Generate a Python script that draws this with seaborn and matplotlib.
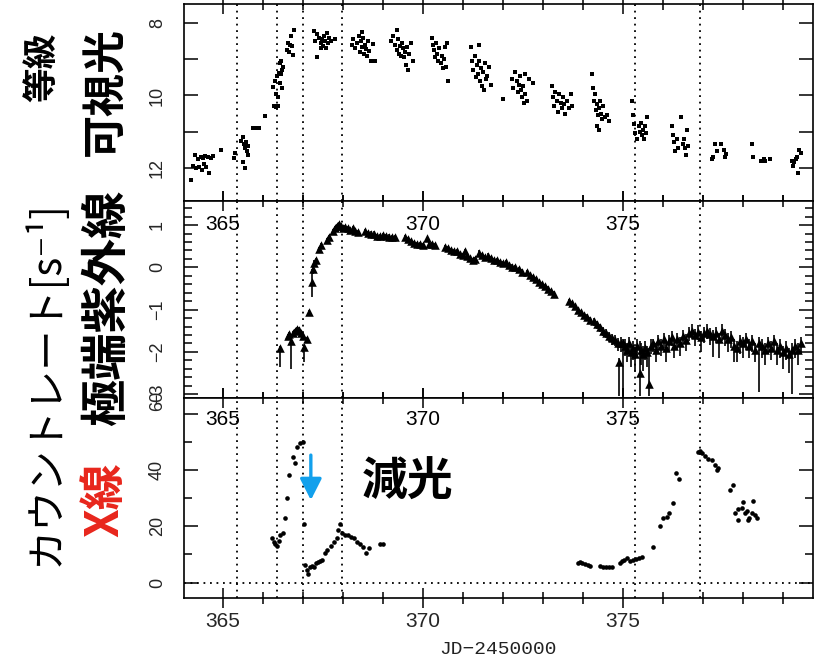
import matplotlib
matplotlib.use("Agg")
import matplotlib.pyplot as plt
import matplotlib.transforms as mtransforms
from matplotlib.ticker import MultipleLocator, FixedLocator
import seaborn as sns

# ---------------- optical (visual magnitude) ----------------
vis_day = [
    364.20, 364.25, 364.30, 364.33, 364.38, 364.40, 364.45, 364.48, 364.50, 364.53,
    364.55, 364.58, 364.62, 364.65, 364.70, 364.75, 364.95,
    365.28, 365.30, 365.45, 365.50, 365.52, 365.55, 365.58, 365.60, 365.62, 365.50,
    365.55, 365.62, 365.75, 365.82, 365.90, 366.05,
    366.25, 366.28, 366.33, 366.38, 366.32, 366.38, 366.35, 366.40, 366.45, 366.48,
    366.42, 366.45, 366.50, 366.30, 366.42, 366.47,
    366.62, 366.68, 366.72, 366.60, 366.65, 366.75, 366.78, 366.70,
    367.27, 367.30, 367.35, 367.40, 367.45, 367.48, 367.50, 367.52, 367.55, 367.58,
    367.60, 367.62, 367.65, 367.70, 367.35, 367.80, 367.45,
    368.22, 368.25, 368.30, 368.35, 368.40, 368.42, 368.45, 368.48, 368.50, 368.52,
    368.55, 368.58, 368.60, 368.62, 368.65, 368.70, 368.75, 368.80, 368.48,
    369.20, 369.25, 369.30, 369.35, 369.38, 369.40, 369.42, 369.45, 369.48, 369.50,
    369.52, 369.55, 369.58, 369.60, 369.62, 369.65, 369.70, 369.75, 369.35,
    370.22, 370.25, 370.28, 370.30, 370.32, 370.35, 370.38, 370.40, 370.45, 370.48,
    370.50, 370.52, 370.55, 370.58, 370.62, 370.60,
    371.20, 371.22, 371.25, 371.30, 371.32, 371.35, 371.38, 371.40, 371.42, 371.45,
    371.48, 371.50, 371.52, 371.55, 371.58, 371.60, 371.65, 371.70, 371.40,
    372.00,
    372.22, 372.25, 372.30, 372.35, 372.38, 372.40, 372.42, 372.45, 372.48, 372.50,
    372.52, 372.55, 372.60, 372.65, 372.75, 372.55,
    373.22, 373.25, 373.28, 373.30, 373.35, 373.38, 373.40, 373.45, 373.48, 373.50,
    373.52, 373.55, 373.60, 373.65, 373.70, 373.72,
    374.22, 374.25, 374.28, 374.30, 374.32, 374.35, 374.38, 374.40, 374.42, 374.45,
    374.48, 374.50, 374.55, 374.60, 374.65, 374.35, 374.40,
    375.22, 375.25, 375.28, 375.30, 375.35, 375.40, 375.42, 375.45, 375.48, 375.50,
    375.52, 375.55, 375.58, 375.60,
    376.22, 376.25, 376.28, 376.30, 376.35, 376.38, 376.45, 376.50, 376.52, 376.55,
    376.58, 376.60, 376.62,
    377.22, 377.25, 377.30, 377.35, 377.45, 377.52, 377.55, 377.58,
    378.22, 378.25, 378.45, 378.52, 378.55, 378.68,
    379.22, 379.25, 379.28, 379.32, 379.35, 379.38, 379.40, 379.45,
]
vis_mag = [
    12.33, 11.95, 11.64, 12.02, 11.75, 11.98, 11.70, 12.05, 11.72, 11.90,
    11.68, 11.98, 11.70, 12.15, 11.72, 11.68, 11.52,
    11.72, 11.60, 11.25, 11.15, 11.35, 11.45, 11.30, 11.55, 11.40, 11.85,
    12.00, 11.65, 10.90, 10.90, 10.90, 10.58,
    9.78, 10.28, 10.32, 10.30, 9.95, 10.05, 9.45, 9.38, 9.40, 9.30,
    9.10, 9.05, 9.20, 9.60, 9.65, 9.80,
    8.55, 8.60, 8.62, 8.75, 8.80, 8.88, 8.18, 8.35,
    8.22, 8.48, 8.30, 8.40, 8.55, 8.45, 8.62, 8.35, 8.50, 8.68,
    8.28, 8.55, 8.42, 8.50, 8.95, 8.45, 8.70,
    8.60, 8.45, 8.70, 8.55, 8.35, 8.80, 8.50, 8.65, 8.40, 8.85,
    8.60, 8.72, 8.90, 8.50, 8.78, 9.05, 8.58, 9.05, 8.25,
    8.50, 8.35, 8.60, 8.75, 8.45, 8.85, 8.62, 8.90, 8.55, 8.70,
    8.95, 8.80, 9.15, 8.65, 9.30, 8.85, 8.55, 9.05, 8.20,
    8.40, 8.60, 8.75, 8.95, 8.55, 8.85, 9.05, 8.70, 9.10, 8.90,
    9.25, 9.00, 8.65, 9.20, 9.60, 8.55,
    8.65, 9.05, 9.30, 8.90, 9.50, 9.15, 9.40, 9.05, 9.60, 9.25,
    9.75, 9.35, 9.85, 9.10, 9.55, 9.45, 9.20, 9.70, 8.60,
    10.10,
    9.55, 9.80, 9.35, 9.60, 9.90, 9.70, 9.45, 9.85, 10.05, 9.75,
    10.20, 9.95, 10.15, 9.55, 9.65, 9.40,
    9.75, 10.05, 10.30, 9.90, 10.15, 10.45, 9.95, 10.20, 10.35, 10.05,
    10.25, 10.50, 10.15, 10.35, 9.95, 10.30,
    9.40, 9.80, 10.15, 9.95, 10.40, 10.25, 10.55, 10.35, 10.15, 10.50,
    10.65, 10.30, 10.60, 10.55, 10.70, 10.85, 10.95,
    10.15, 10.55, 10.80, 11.05, 11.20, 10.85, 11.00, 10.75, 11.10, 10.95,
    11.20, 10.85, 11.05, 10.60,
    10.85, 11.10, 11.30, 11.55, 11.20, 11.45, 10.60, 11.35, 11.20, 11.45,
    11.65, 10.95, 11.40,
    11.75, 11.70, 11.35, 11.55, 11.35, 11.50, 11.70, 11.62,
    11.35, 11.70, 11.80, 11.75, 11.82, 11.75,
    11.80, 11.95, 11.85, 11.75, 11.70, 12.15, 11.50, 11.60,
]

# ---------------- EUV (log count rate) with asymmetric errors ----------------
euv_day = [
    366.43, 366.62, 366.66, 366.70, 366.75, 366.80, 366.85, 366.90, 366.95, 367.00,
    367.04, 367.10, 367.15, 367.22, 367.25, 367.28, 367.32, 367.40, 367.45, 367.60,
    367.65, 367.75, 367.80, 367.85, 367.90, 367.95, 368.00, 368.05, 368.12, 368.18,
    368.25, 368.30, 368.38, 368.55, 368.62, 368.70, 368.78, 368.85, 368.92, 369.00,
    369.08, 369.15, 369.22, 369.30, 369.55, 369.62, 369.70, 369.78, 369.85, 369.92,
    370.00, 370.10, 370.15, 370.22, 370.30, 370.55, 370.62, 370.70, 370.78, 370.85,
    370.92, 371.00, 371.05, 371.10, 371.18, 371.25, 371.30, 371.40, 371.48, 371.55,
    371.62, 371.70, 371.78, 371.85, 371.92, 372.00, 372.08, 372.15, 372.22, 372.30,
    372.40, 372.48, 372.60, 372.68, 372.75, 372.82, 372.90, 372.98, 373.05, 373.12,
    373.20, 373.28, 373.65, 373.72, 373.80, 373.88, 373.95, 374.02, 374.10, 374.18,
    374.28, 374.35, 374.42, 374.50, 374.58, 374.65, 374.72, 374.80, 374.88, 374.90,
    374.95, 375.00, 375.05, 375.10, 375.15, 375.20, 375.25, 375.30, 375.35, 375.42,
    375.45, 375.50, 375.55, 375.60, 375.65, 375.70, 375.75, 375.82, 375.88, 375.95,
    376.02, 376.08, 376.15, 376.22, 376.28, 376.35, 376.42, 376.50, 376.58, 376.65,
    376.72, 376.80, 376.88, 376.95, 377.02, 377.10, 377.18, 377.25, 377.32, 377.40,
    377.48, 377.55, 377.62, 377.70, 377.78, 377.85, 377.92, 378.00, 378.08, 378.15,
    378.22, 378.30, 378.40, 378.48, 378.55, 378.62, 378.70, 378.78, 378.85, 378.92,
    379.00, 379.08, 379.15, 379.22, 379.30, 379.38, 379.45,
]
euv_log = [
    -1.90, -1.62, -1.58, -1.75, -1.55, -1.50, -1.45, -1.47, -1.55, -1.62,
    -1.88, -1.70, -1.05, -0.35, -0.05, 0.10, 0.18, 0.43, 0.52, 0.65,
    0.72, 0.85, 0.92, 0.97, 1.02, 0.98, 0.92, 0.95, 0.93, 0.88,
    0.92, 0.85, 0.83, 0.85, 0.82, 0.80, 0.80, 0.75, 0.74, 0.76,
    0.74, 0.73, 0.72, 0.72, 0.72, 0.68, 0.62, 0.57, 0.55, 0.55,
    0.53, 0.70, 0.55, 0.55, 0.52, 0.48, 0.45, 0.42, 0.38, 0.38,
    0.32, 0.30, 0.38, 0.28, 0.22, 0.18, 0.20, 0.35, 0.30, 0.25,
    0.28, 0.22, 0.18, 0.17, 0.12, 0.10, 0.12, 0.05, 0.02, 0.00,
    -0.05, -0.10, -0.12, -0.18, -0.22, -0.28, -0.35, -0.40, -0.45, -0.50,
    -0.55, -0.62, -0.80, -0.85, -0.92, -1.00, -1.05, -1.12, -1.18, -1.25,
    -1.28, -1.35, -1.42, -1.50, -1.55, -1.62, -1.68, -1.72, -1.78, -2.25,
    -1.80, -1.80, -1.85, -1.95, -1.80, -2.00, -1.90, -2.05, -1.85, -2.50,
    -1.95, -2.05, -1.90, -2.00, -2.75, -1.85, -1.80, -1.95, -1.75, -1.85,
    -1.70, -1.90, -1.75, -1.65, -1.85, -1.70, -1.80, -1.62, -1.72, -1.55,
    -1.50, -1.60, -1.52, -1.65, -1.55, -1.50, -1.58, -1.62, -1.55, -1.70,
    -1.50, -1.60, -1.70, -1.65, -1.85, -1.90, -1.75, -1.80, -1.70, -1.85,
    -1.75, -1.95, -1.80, -1.85, -1.95, -1.80, -1.90, -1.75, -1.95, -1.85,
    -2.00, -1.90, -2.05, -1.95, -1.85, -1.95, -1.80,
]
euv_lo = [
    0.45, 0.10, 0.10, 0.65, 0.10, 0.10, 0.10, 0.10, 0.10, 0.10,
    0.35, 0.10, 0.05, 0.35, 0.10, 0.10, 0.05, 0.05, 0.05, 0.05,
    0.05, 0.05, 0.05, 0.05, 0.05, 0.05, 0.05, 0.05, 0.05, 0.05,
    0.05, 0.05, 0.05, 0.05, 0.05, 0.05, 0.05, 0.05, 0.05, 0.05,
    0.05, 0.05, 0.05, 0.05, 0.05, 0.05, 0.05, 0.05, 0.05, 0.05,
    0.05, 0.02, 0.05, 0.05, 0.05, 0.05, 0.05, 0.05, 0.05, 0.05,
    0.05, 0.05, 0.05, 0.05, 0.05, 0.05, 0.05, 0.05, 0.05, 0.05,
    0.05, 0.05, 0.05, 0.05, 0.05, 0.05, 0.05, 0.05, 0.05, 0.05,
    0.05, 0.05, 0.05, 0.05, 0.05, 0.05, 0.05, 0.05, 0.05, 0.05,
    0.05, 0.05, 0.08, 0.08, 0.08, 0.08, 0.08, 0.08, 0.10, 0.10,
    0.10, 0.10, 0.10, 0.12, 0.12, 0.15, 0.15, 0.15, 0.20, 0.80,
    0.20, 1.25, 0.25, 0.30, 0.25, 0.35, 0.30, 0.40, 0.25, 0.55,
    0.35, 0.40, 0.30, 0.35, 0.30, 0.20, 0.20, 0.30, 0.20, 0.25,
    0.20, 0.35, 0.25, 0.20, 0.30, 0.25, 0.30, 0.20, 0.25, 0.20,
    0.20, 0.25, 0.20, 0.35, 0.25, 0.20, 0.25, 0.50, 0.25, 0.45,
    0.25, 0.25, 0.30, 0.25, 0.40, 0.35, 0.30, 0.35, 0.25, 0.30,
    0.25, 0.30, 1.15, 0.30, 0.35, 0.25, 0.30, 0.25, 0.35, 0.30,
    0.40, 0.30, 0.45, 1.05, 0.30, 0.35, 0.25,
]
euv_hi = [
    0.05, 0.05, 0.05, 0.05, 0.05, 0.05, 0.05, 0.05, 0.05, 0.05,
    0.05, 0.05, 0.05, 0.30, 0.08, 0.08, 0.05, 0.05, 0.05, 0.05,
    0.05, 0.05, 0.05, 0.05, 0.05, 0.05, 0.05, 0.05, 0.05, 0.05,
    0.05, 0.05, 0.05, 0.05, 0.05, 0.05, 0.05, 0.05, 0.05, 0.05,
    0.05, 0.05, 0.05, 0.05, 0.05, 0.05, 0.05, 0.05, 0.05, 0.05,
    0.05, 0.02, 0.05, 0.05, 0.05, 0.05, 0.05, 0.05, 0.05, 0.05,
    0.05, 0.05, 0.05, 0.05, 0.05, 0.05, 0.05, 0.05, 0.05, 0.05,
    0.05, 0.05, 0.05, 0.05, 0.05, 0.05, 0.05, 0.05, 0.05, 0.05,
    0.05, 0.05, 0.05, 0.05, 0.05, 0.05, 0.05, 0.05, 0.05, 0.05,
    0.05, 0.05, 0.05, 0.05, 0.05, 0.05, 0.05, 0.05, 0.08, 0.08,
    0.08, 0.08, 0.08, 0.10, 0.10, 0.10, 0.10, 0.12, 0.12, 0.10,
    0.15, 0.10, 0.15, 0.15, 0.15, 0.15, 0.15, 0.15, 0.15, 0.75,
    0.15, 0.20, 0.15, 0.15, 0.85, 0.15, 0.10, 0.15, 0.15, 0.15,
    0.15, 0.15, 0.15, 0.15, 0.15, 0.15, 0.15, 0.15, 0.15, 0.15,
    0.15, 0.15, 0.15, 0.15, 0.15, 0.15, 0.15, 0.15, 0.15, 0.15,
    0.15, 0.15, 0.15, 0.15, 0.15, 0.15, 0.15, 0.15, 0.15, 0.15,
    0.15, 0.15, 0.15, 0.15, 0.15, 0.15, 0.15, 0.15, 0.15, 0.15,
    0.15, 0.15, 0.15, 0.15, 0.15, 0.15, 0.15,
]

# ---------------- X-ray count rate ----------------
xr_day = [
    366.23, 366.28, 366.30, 366.35, 366.40, 366.43, 366.50, 366.55, 366.60, 366.65,
    366.75, 366.80, 366.85, 366.93, 367.00, 367.03, 367.05, 367.10, 367.12, 367.17,
    367.22, 367.27, 367.32, 367.37, 367.42, 367.47, 367.55, 367.60, 367.70, 367.78,
    367.85, 367.88, 367.93, 367.98, 368.05, 368.12, 368.20, 368.28, 368.35, 368.42,
    368.50, 368.58, 368.65, 368.93, 369.00,
    373.88, 373.93, 373.98, 374.05, 374.12, 374.18, 374.43, 374.50, 374.58, 374.65,
    374.72, 374.93, 374.98, 375.03, 375.10, 375.18, 375.25, 375.32, 375.40, 375.48,
    375.75, 375.93, 376.00, 376.10, 376.15, 376.25, 376.33, 376.40,
    376.88, 376.93, 376.98, 377.05, 377.13, 377.23, 377.30, 377.35, 377.38,
    377.68, 377.75, 377.80, 377.88, 378.00, 378.10, 378.15, 378.25, 378.35, 377.88,
    378.13, 377.98, 378.05, 378.23, 378.30,
]
xr_rate = [
    15.7, 14.5, 13.9, 12.9, 14.8, 16.8, 17.5, 22.9, 30.0, 38.2,
    44.6, 42.5, 48.2, 49.6, 50.0, 21.0, 6.1, 4.3, 3.2, 5.4,
    6.0, 5.5, 6.8, 7.2, 7.6, 8.0, 10.4, 11.5, 13.0, 14.5,
    15.8, 18.6, 21.0, 17.5, 16.8, 17.0, 16.2, 15.8, 14.5, 13.6,
    12.8, 10.4, 12.2, 13.9, 13.6,
    6.8, 7.2, 7.0, 6.6, 6.2, 5.8, 5.9, 5.7, 5.6, 5.5,
    5.5, 6.9, 7.5, 8.0, 8.6, 7.6, 7.9, 8.4, 8.9, 9.2,
    12.5, 20.0, 22.9, 23.2, 24.6, 28.2, 38.9, 36.8,
    46.4, 46.8, 46.1, 45.2, 43.9, 43.6, 41.8, 40.0, 40.7,
    32.9, 34.6, 24.6, 26.3, 28.8, 25.6, 23.1, 29.2, 23.1, 22.4,
    22.4, 26.7, 24.9, 24.6, 23.9,
]

# epochs marked by dotted vertical lines
mark_days = [365.35, 366.35, 367.0, 367.97, 375.3, 376.92]

major_days = [365, 370, 375]

# ---------------- figure ----------------
sns.set_theme(style="ticks")
plt.rcParams["font.family"] = ["Liberation Sans", "DejaVu Sans"]
plt.rcParams["axes.linewidth"] = 1.2

W, H = 816, 660
fig = plt.figure(figsize=(W / 100, H / 100), dpi=100)

def box(top, bottom, left=184, right=813):
    return [left / W, 1 - bottom / H, (right - left) / W, (bottom - top) / H]

ax1 = fig.add_axes(box(4, 201))
ax2 = fig.add_axes(box(201, 398))
ax3 = fig.add_axes(box(398, 598))
axes = [ax1, ax2, ax3]

dot_style = dict(color="black", lw=1.3, ls=(0, (1, 2.6)), zorder=1)

# optical light curve
sns.scatterplot(x=vis_day, y=vis_mag, ax=ax1, marker="s", s=8, color="black",
                linewidth=0, zorder=3)

# EUV light curve
ax2.errorbar(euv_day, euv_log, yerr=[euv_lo, euv_hi], fmt="none", ecolor="black",
             elinewidth=1.2, capsize=0, zorder=2)
sns.scatterplot(x=euv_day, y=euv_log, ax=ax2, marker="^", s=38, color="black",
                linewidth=0, zorder=3)

# X-ray light curve
sns.scatterplot(x=xr_day, y=xr_rate, ax=ax3, marker="o", s=11, color="black",
                linewidth=0, zorder=3)
ax3.axhline(0, **dot_style)

for ax in axes:
    for d in mark_days:
        ax.axvline(d, **dot_style)
    ax.set_xlim(364.03, 379.75)
    ax.xaxis.set_major_locator(MultipleLocator(5))
    ax.xaxis.set_minor_locator(MultipleLocator(1))
    ax.tick_params(axis="x", which="both", direction="inout", top=True, bottom=True,
                   labelbottom=False, color="black", width=1.1)
    ax.tick_params(axis="x", which="major", length=14)
    ax.tick_params(axis="x", which="minor", length=8)
    ax.tick_params(axis="y", which="both", direction="in", left=True, right=True,
                   color="black", width=1.1, labelsize=13, pad=13, labelrotation=90)
    ax.tick_params(axis="y", which="major", length=10)
    ax.tick_params(axis="y", which="minor", length=6)
    ax.set_xlabel("")
    ax.set_ylabel("")
    for s in ax.spines.values():
        s.set_color("black")
        s.set_linewidth(1.2)

# axis ranges and ticks
ax1.set_ylim(12.92, 7.47)
ax1.yaxis.set_major_locator(FixedLocator([8, 10, 12]))
ax1.yaxis.set_minor_locator(FixedLocator([9, 11]))
ax1.tick_params(axis="y", which="minor", length=10)

ax2.set_ylim(-3.09, 1.57)
ax2.yaxis.set_major_locator(FixedLocator([-3, -2, -1, 0, 1]))
ax2.yaxis.set_major_formatter(plt.FuncFormatter(lambda v, p: f"{v:.0f}".replace("-", "\u2212")))
ax2.yaxis.set_minor_locator(MultipleLocator(0.2))

ax3.set_ylim(-5.5, 65.7)
ax3.yaxis.set_major_locator(FixedLocator([0, 20, 40, 60]))
ax3.yaxis.set_minor_locator(MultipleLocator(10))
ax3.tick_params(axis="x", which="both", labelbottom=True, labelsize=15, pad=3)

for ax in axes:
    for lbl in ax.get_yticklabels():
        lbl.set_verticalalignment("center")

# lift the top label of the X-ray scale
for lbl in ax3.get_yticklabels():
    if lbl.get_text() == "60":
        lbl.set_transform(lbl.get_transform()
                          + mtransforms.ScaledTranslation(0, 0.13, fig.dpi_scale_trans))

# day numbers written just inside the upper edge of the lower two panels
for ax, yf in [(ax2, 0.88), (ax3, 0.89)]:
    for d in major_days:
        ax.text(d, yf, str(d), transform=ax.get_xaxis_transform(), ha="center",
                va="center", fontsize=15, color="black", zorder=4)

fig.text(498 / W, 1 - 650 / H, "JD\u22122450000", ha="center", va="center",
         fontsize=14, family=["Liberation Mono", "DejaVu Sans Mono"], color="#222222")

# Japanese panel labels
jp = ["Noto Sans CJK JP", "DejaVu Sans"]

def ftext(x, y, s, **kw):
    fig.text(x / W, 1 - y / H, s, ha="center", va="center", family=jp, **kw)

ftext(42, 67, "等級", rotation=90, fontsize=25, fontweight="bold", color="black")
ftext(105, 92, "可視光", rotation=90, fontsize=31, fontweight="bold", color="black")
ftext(107, 308, "極端紫外線", rotation=90, fontsize=34, fontweight="bold", color="black")
ftext(105, 500, "X線", rotation=90, fontsize=33, fontweight="bold", color="#e8261c")
ftext(45, 383, "カウントレート[s\u207b\u00b9]", rotation=90, fontsize=29, color="black")
ftext(408, 483, "減光", fontsize=33, fontweight="bold", color="black")

# dimming arrow
ax3.annotate("", xy=(367.2, (582.5 - 500) / 2.81), xytext=(367.2, (582.5 - 455) / 2.81),
             arrowprops=dict(arrowstyle="-|>,head_length=0.65,head_width=0.33",
                             mutation_scale=20, color="#12a0ec", lw=2.4,
                             shrinkA=0, shrinkB=0), zorder=5)

fig.savefig("out.png", dpi=100, facecolor="white")
